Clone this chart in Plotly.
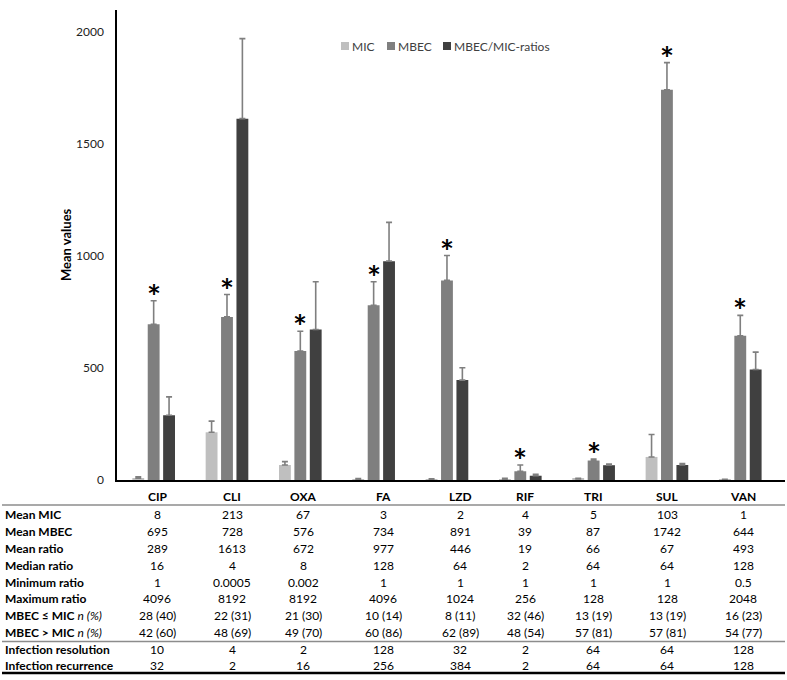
import plotly.graph_objects as go

# ---------------- data ----------------
categories = ["CIP", "CLI", "OXA", "FA", "LZD", "RIF", "TRI", "SUL", "VAN"]

mic_mean = [8, 213, 67, 3, 2, 4, 5, 103, 1]
mic_err = [6, 50, 15, 3, 3, 4, 3, 100, 2]
mbec_mean = [695, 728, 576, 780, 891, 39, 87, 1742, 644]
mbec_err = [105, 100, 88, 105, 111, 28, 6, 121, 91]
ratio_mean = [289, 1613, 672, 977, 446, 19, 66, 67, 493]
ratio_err = [82, 357, 213, 173, 55, 6, 5, 6, 78]

significant = [True] * 9  # asterisks above MBEC bars

y_ticks = [0, 500, 1000, 1500, 2000]

row_labels = [
    "<b>Mean MIC</b>",
    "<b>Mean MBEC</b>",
    "<b>Mean ratio</b>",
    "<b>Median ratio</b>",
    "<b>Minimum ratio</b>",
    "<b>Maximum ratio</b>",
    "<b>MBEC ≤ MIC</b> <i>n (%)</i>",
    "<b>MBEC > MIC</b> <i>n (%)</i>",
    "<b>Infection resolution</b>",
    "<b>Infection recurrence</b>",
]
row_mean_mic = ["8", "213", "67", "3", "2", "4", "5", "103", "1"]
row_mean_mbec = ["695", "728", "576", "734", "891", "39", "87", "1742", "644"]
row_mean_ratio = ["289", "1613", "672", "977", "446", "19", "66", "67", "493"]
row_median_ratio = ["16", "4", "8", "128", "64", "2", "64", "64", "128"]
row_min_ratio = ["1", "0.0005", "0.002", "1", "1", "1", "1", "1", "0.5"]
row_max_ratio = ["4096", "8192", "8192", "4096", "1024", "256", "128", "128", "2048"]
row_le = ["28 (40)", "22 (31)", "21 (30)", "10 (14)", "8 (11)", "32 (46)", "13 (19)", "13 (19)", "16 (23)"]
row_gt = ["42 (60)", "48 (69)", "49 (70)", "60 (86)", "62 (89)", "48 (54)", "57 (81)", "57 (81)", "54 (77)"]
row_resolution = ["10", "4", "2", "128", "32", "2", "64", "64", "128"]
row_recurrence = ["32", "2", "16", "256", "384", "2", "64", "64", "128"]
table_rows = [row_mean_mic, row_mean_mbec, row_mean_ratio, row_median_ratio,
              row_min_ratio, row_max_ratio, row_le, row_gt,
              row_resolution, row_recurrence]

series_names = ["MIC", "MBEC", "MBEC/MIC-ratios"]

# ---------------- layout helpers ----------------
W, H = 787, 680
ML, MR, MT, MB = 117, 2, 10, 200
PW, PH = W - ML - MR, H - MT - MB


def xp(px):
    return (px - ML) / PW


def yp(py):
    return (H - MB - py) / PH


FONT = "Lato, 'Open Sans', sans-serif"
colors = ["#bfbfbf", "#7f7f7f", "#404040"]
x_idx = list(range(len(categories)))

fig = go.Figure()
for name, vals, errs, col in zip(series_names,
                                 [mic_mean, mbec_mean, ratio_mean],
                                 [mic_err, mbec_err, ratio_err], colors):
    fig.add_trace(go.Bar(
        x=x_idx, y=vals, name=name, marker=dict(color=col, line=dict(width=0)),
        error_y=dict(type="data", symmetric=False, array=errs,
                     arrayminus=[0] * len(errs), color="#7f7f7f",
                     thickness=1.6, width=3),
        showlegend=False, hoverinfo="skip",
    ))

annotations = []
# asterisks
for i, (v, e, s) in enumerate(zip(mbec_mean, mbec_err, significant)):
    if s:
        annotations.append(dict(x=i, y=v + e, xref="x", yref="y", text="<b>*</b>",
                                showarrow=False, xanchor="center", yanchor="bottom",
                                yshift=-17,
                                font=dict(family=FONT, size=33, color="#000")))

# y-axis title
annotations.append(dict(x=xp(66), y=yp(245), xref="paper", yref="paper",
                        text="<b>Mean values</b>", textangle=-90, showarrow=False,
                        xanchor="center", yanchor="middle",
                        font=dict(family=FONT, size=13, color="#000")))

# custom legend
legend_px = [(345, "MIC"), (391, "MBEC"), (447, "MBEC/MIC-ratios")]
shapes = []
for (lx, name), col in zip(legend_px, colors):
    shapes.append(dict(type="rect", xref="paper", yref="paper",
                       x0=xp(lx - 4), x1=xp(lx + 4), y0=yp(50), y1=yp(42),
                       fillcolor=col, line=dict(width=0)))
    annotations.append(dict(x=xp(lx + 5), y=yp(46), xref="paper", yref="paper",
                            text=name, showarrow=False, xanchor="left",
                            yanchor="middle",
                            font=dict(family=FONT, size=12, color="#404040")))

# table
col_px = [157, 232, 303, 383, 460, 525, 593, 667, 743]
header_y = 496
row_y = [514.5, 531.3, 548, 565, 582, 598.5, 615.3, 632, 649, 665.5]
TF = 12
for cx, cat in zip(col_px, categories):
    annotations.append(dict(x=xp(cx), y=yp(header_y), xref="paper", yref="paper",
                            text=f"<b>{cat}</b>", showarrow=False,
                            xanchor="center", yanchor="middle",
                            font=dict(family=FONT, size=TF, color="#000")))
for ry, lab, vals in zip(row_y, row_labels, table_rows):
    annotations.append(dict(x=xp(3), y=yp(ry), xref="paper", yref="paper",
                            text=lab, showarrow=False, xanchor="left",
                            yanchor="middle",
                            font=dict(family=FONT, size=TF, color="#000")))
    for cx, v in zip(col_px, vals):
        annotations.append(dict(x=xp(cx), y=yp(ry), xref="paper", yref="paper",
                                text=v, showarrow=False,
                                xanchor="center", yanchor="middle",
                                font=dict(family=FONT, size=TF, color="#000")))

shapes.append(dict(type="line", xref="paper", yref="paper", x0=xp(2), x1=xp(785),
                   y0=yp(505), y1=yp(505), line=dict(color="#8c8c8c", width=1.5)))
shapes.append(dict(type="line", xref="paper", yref="paper", x0=xp(2), x1=xp(785),
                   y0=yp(641.5), y1=yp(641.5), line=dict(color="#8c8c8c", width=1.5)))
shapes.append(dict(type="line", xref="paper", yref="paper", x0=xp(2), x1=xp(785),
                   y0=yp(673), y1=yp(673), line=dict(color="#000", width=2.5)))

fig.update_layout(
    width=W, height=H,
    margin=dict(l=ML, r=MR, t=MT, b=MB),
    paper_bgcolor="white", plot_bgcolor="white",
    barmode="group", bargap=0.37, bargroupgap=0.23,
    showlegend=False,
    xaxis=dict(range=[-0.5, 8.61], showticklabels=False, ticks="",
               showgrid=False, zeroline=False, showline=True,
               linecolor="#000", linewidth=2),
    yaxis=dict(range=[0, 2098], tickvals=y_ticks, showgrid=False, zeroline=False,
               showline=True, linecolor="#000", linewidth=1.5,
               ticks="outside", ticklen=9, tickcolor="rgba(0,0,0,0)",
               tickfont=dict(family=FONT, size=12, color="#222")),
    annotations=annotations, shapes=shapes,
)

fig.write_html(
    "out.html",
    config={"displayModeBar": False},
    post_script="document.body.style.margin='0';document.body.style.overflow='hidden';",
)
